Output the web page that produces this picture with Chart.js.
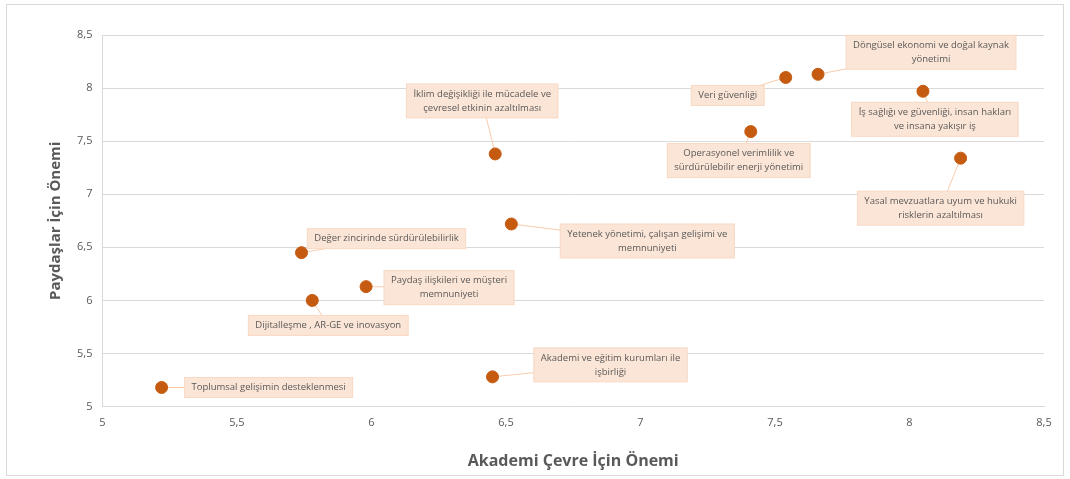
<!DOCTYPE html>
<html>
<head>
<meta charset="utf-8">
<script src="https://cdn.jsdelivr.net/npm/chart.js@4/dist/chart.umd.min.js"></script>
<style>
  body { margin: 0; background: #fff; }
  #wrap { position: absolute; left: 6px; top: 4px; width: 1056px; height: 470px; border: 1px solid #d9d9d9; }
</style>
</head>
<body>
<div id="wrap"><canvas id="chartMatris"></canvas></div>
<script>
// Konular (etiketler satır satır)
const konular = [
  ['İklim değişikliği ile mücadele ve', 'çevresel etkinin azaltılması'],
  ['Döngüsel ekonomi ve doğal kaynak', 'yönetimi'],
  ['Veri güvenliği'],
  ['İş sağlığı ve güvenliği, insan hakları', 've insana yakışır iş'],
  ['Operasyonel verimlilik ve', 'sürdürülebilir enerji yönetimi'],
  ['Yasal mevzuatlara uyum ve hukuki', 'risklerin azaltılması'],
  ['Yetenek yönetimi, çalışan gelişimi ve', 'memnuniyeti'],
  ['Değer zincirinde sürdürülebilirlik'],
  ['Paydaş ilişkileri ve müşteri', 'memnuniyeti'],
  ['Dijitalleşme , AR-GE ve inovasyon'],
  ['Akademi ve eğitim kurumları ile', 'işbirliği'],
  ['Toplumsal gelişimin desteklenmesi']
];
const akademiOnem = [6.46, 7.66, 7.54, 8.05, 7.41, 8.19, 6.52, 5.74, 5.98, 5.78, 6.45, 5.22];
const paydasOnem  = [7.38, 8.13, 8.10, 7.97, 7.59, 7.34, 6.72, 6.45, 6.13, 6.00, 5.28, 5.18];
const eksenTicks = [5, 5.5, 6, 6.5, 7, 7.5, 8, 8.5];

// etiket kutularının noktaya göre kayması (px)
const etiketKaydir = [
  [-13, -53], [113, -22], [-58, 18], [12, 28], [-12, 29], [-20, 50],
  [136, 17], [85, -14], [83, 1], [16, 25], [118, -12], [107, 0]
];

const fmt = v => String(v).replace('.', ',');

const etiketPlugin = {
  id: 'etiketler',
  beforeDatasetsDraw(chart) {
    const ctx = chart.ctx;
    const pts = chart.getDatasetMeta(0).data;
    ctx.save();
    ctx.strokeStyle = '#f8cbad';
    ctx.lineWidth = 1;
    pts.forEach((p, i) => {
      const [dx, dy] = etiketKaydir[i];
      ctx.beginPath();
      ctx.moveTo(p.x, p.y);
      ctx.lineTo(p.x + dx, p.y + dy);
      ctx.stroke();
    });
    ctx.restore();
  },
  afterDatasetsDraw(chart) {
    const ctx = chart.ctx;
    const pts = chart.getDatasetMeta(0).data;
    ctx.save();
    ctx.font = '9.5px "Open Sans", sans-serif';
    ctx.textAlign = 'center';
    ctx.textBaseline = 'middle';
    pts.forEach((p, i) => {
      const lines = konular[i];
      const [dx, dy] = etiketKaydir[i];
      const cx = p.x + dx, cy = p.y + dy;
      const w = Math.max(...lines.map(l => ctx.measureText(l).width)) + 14;
      const lh = 14;
      const h = lines.length * lh + 6;
      ctx.fillStyle = '#fbe5d6';
      ctx.fillRect(cx - w / 2, cy - h / 2, w, h);
      ctx.strokeStyle = '#f8d9c4';
      ctx.strokeRect(cx - w / 2, cy - h / 2, w, h);
      ctx.fillStyle = '#595959';
      lines.forEach((l, k) => {
        ctx.fillText(l, cx, cy - h / 2 + 3 + lh / 2 + k * lh);
      });
    });
    ctx.restore();
  }
};

new Chart(document.getElementById('chartMatris'), {
  type: 'scatter',
  data: {
    datasets: [{
      data: akademiOnem.map((x, i) => ({ x: x, y: paydasOnem[i] })),
      backgroundColor: '#c55a11',
      borderColor: '#c55a11',
      pointRadius: 6,
      pointHoverRadius: 6
    }]
  },
  plugins: [etiketPlugin],
  options: {
    responsive: true,
    maintainAspectRatio: false,
    animation: false,
    layout: { padding: { left: 40, right: 19, top: 30, bottom: 0 } },
    plugins: { legend: { display: false }, tooltip: { enabled: false } },
    scales: {
      x: {
        type: 'linear',
        min: 5, max: 8.5,
        afterBuildTicks: ax => { ax.ticks = eksenTicks.map(v => ({ value: v })); },
        ticks: { color: '#595959', font: { size: 11, family: '"Open Sans", sans-serif' }, callback: v => fmt(v), padding: 10 },
        grid: { display: false, drawTicks: false },
        border: { color: '#d9d9d9' },
        title: { display: true, text: 'Akademi Çevre İçin Önemi', color: '#595959', font: { size: 16, weight: 'bold', family: '"Open Sans", sans-serif' }, padding: { top: 12 } }
      },
      y: {
        min: 5, max: 8.5,
        afterBuildTicks: ax => { ax.ticks = eksenTicks.map(v => ({ value: v })); },
        ticks: { color: '#595959', font: { size: 11, family: '"Open Sans", sans-serif' }, callback: v => fmt(v), padding: 10 },
        grid: { color: '#d9d9d9', drawTicks: false },
        border: { color: '#d9d9d9' },
        title: { display: true, text: 'Paydaşlar İçin Önemi', color: '#595959', font: { size: 15, weight: 'bold', family: '"Open Sans", sans-serif' }, padding: { top: 0, bottom: 2 } }
      }
    }
  }
});
</script>
</body>
</html>
